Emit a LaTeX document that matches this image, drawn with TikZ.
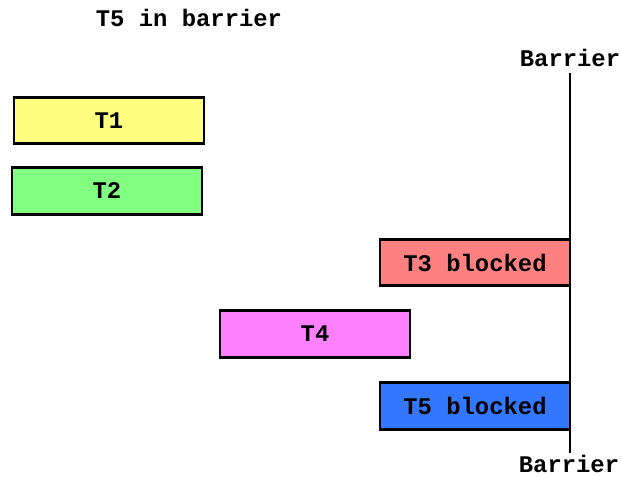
\documentclass[tikz,border=0pt]{standalone}
\usepackage{fontspec}
\setmainfont{Liberation Mono}
\usepackage{tikz}
\usetikzlibrary{positioning}

\definecolor{tyellow}{RGB}{255,255,128}
\definecolor{tgreen}{RGB}{128,255,128}
\definecolor{tred}{RGB}{255,128,128}
\definecolor{tpink}{RGB}{255,128,255}
\definecolor{tblue}{RGB}{51,119,255}

\begin{document}
\begin{tikzpicture}[x=0.75pt,y=0.75pt,yscale=-1,xscale=1,
  every node/.style={font=\fontsize{17.9}{20}\selectfont\bfseries},
  thread/.style={draw, line width=2.2pt, minimum width=142.5pt, minimum height=35pt, inner sep=0pt},
  barrierline/.style={line width=2.2pt}]
%set diagram left start at 0, and has height of 477
\useasboundingbox (0,0) rectangle (621,477);

%Threads
\node [thread, fill=tyellow] (t1) at (109,120.5) {T1};
\node [thread, fill=tgreen] (t2) at (107,191) {T2};
\node [thread, fill=tred] (t3) at (475,262.5) {T3 blocked};
\node [thread, fill=tpink] (t4) at (315,334) {T4};
\node [thread, fill=tblue] (t5) at (475,406) {T5 blocked};

%Barrier
\coordinate (btop) at (570,73);
\coordinate (bbot) at (570,453);
\draw [barrierline] (btop) -- (bbot);

% Text Node
\node (toplabel) at (570,58) {Barrier};
% Text Node
\node [anchor=base, inner sep=0pt, text depth=0pt] (botlabel) at (569,472) {Barrier};
% Text Node
\node (title) at (189,18) {T5 in barrier};

\end{tikzpicture}
\end{document}
